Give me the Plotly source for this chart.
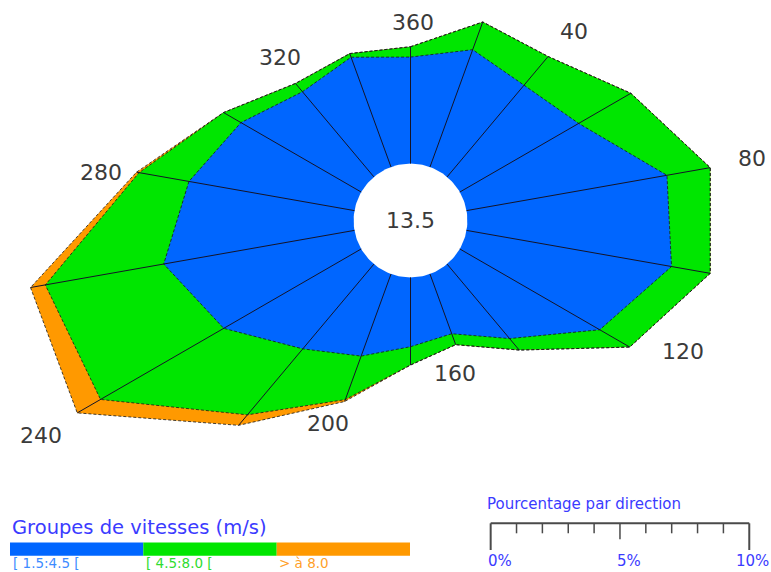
import numpy as np
import plotly.graph_objects as go

# ---------------------------------------------------------------- data
directions = [0, 20, 40, 60, 80, 100, 120, 140, 160, 180,
              200, 220, 240, 260, 280, 300, 320, 340]

# frequency (% per direction) for each speed group
pct_low = [4.12, 4.83, 4.63, 5.31, 7.87, 8.05, 6.25, 3.76, 2.46, 2.68,
           3.38, 4.28, 6.14, 7.49, 6.50, 5.37, 4.30, 4.52]      # [1.5:4.5[
pct_mid = [0.40, 1.14, 1.45, 2.33, 1.70, 1.52, 1.34, 0.58, 0.45, 0.71,
           1.79, 3.33, 5.50, 4.65, 1.96, 0.78, 0.42, 0.15]      # [4.5:8.0[
pct_high = [0.00, 0.00, 0.00, 0.00, 0.00, 0.00, 0.00, 0.00, 0.00, 0.00,
            0.08, 0.53, 1.04, 0.58, 0.10, 0.00, 0.00, 0.00]     # > 8.0

calm_pct = 13.5

group_labels = ["[ 1.5:4.5 [", "[ 4.5:8.0 [", "> à 8.0"]
group_colors = ["#0066ff", "#00e600", "#ff9900"]
group_text_colors = ["#3d8bff", "#2fdc2f", "#ff9f2a"]

tick_dirs = [0, 40, 80, 120, 160, 200, 240, 280, 320]
tick_labels = ["360", "40", "80", "120", "160", "200", "240", "280", "320"]

scale_values = list(range(0, 11))
scale_labels = {0: "0%", 5: "5%", 10: "10%"}

# ---------------------------------------------------------------- geometry
W, H = 771, 572
PX_PER_PCT = 25.86            # pixels for 1 % on the radial scale
CX, CY = 410.5, 220.5         # rose centre (pixels from top-left)
HOLE = 2.2                    # radius of the calm disc, in % units
SCALE_X0 = 3.10               # start of the percentage bar (x data units)

x_range = [-CX / PX_PER_PCT, (W - CX) / PX_PER_PCT]
y_range = [-(H - CY) / PX_PER_PCT, CY / PX_PER_PCT]

# pixel shift of each direction label from its outer vertex
LABEL_SHIFT = {0: (2, -24), 40: (26, -25), 80: (42, -9), 120: (53, 4),
               160: (-1, 29), 200: (-17, 22), 240: (-36, 23),
               280: (-35, 0), 320: (-15, -26)}

FONT = "DejaVu Sans"
LABEL_GREY = "#3a3a3a"
TITLE_BLUE = "#3b3bff"


def polar_xy(dirs, rho):
    th = np.radians(np.asarray(dirs, dtype=float))
    rho = np.asarray(rho, dtype=float)
    return rho * np.sin(th), rho * np.cos(th)


def closed(a):
    a = list(a)
    return a + a[:1]


def py2paper(py):
    return 1 - py / H


cum_low = HOLE + np.array(pct_low)
cum_mid = cum_low + np.array(pct_mid)
cum_high = cum_mid + np.array(pct_high)

fig = go.Figure()

# stacked filled polygons, outermost first
for cum, color in [(cum_high, group_colors[2]),
                   (cum_mid, group_colors[1]),
                   (cum_low, group_colors[0])]:
    x, y = polar_xy(directions, cum)
    fig.add_trace(go.Scatter(x=closed(x), y=closed(y), mode="lines",
                             fill="toself", fillcolor=color,
                             line=dict(width=0), hoverinfo="skip"))

# calm disc in the middle
disc_dirs = np.linspace(0, 360, 181)
dx, dy = polar_xy(disc_dirs, np.full(disc_dirs.shape, HOLE))
fig.add_trace(go.Scatter(x=dx, y=dy, mode="lines", fill="toself",
                         fillcolor="white", line=dict(width=0),
                         hoverinfo="skip"))

# outlines of each speed layer
for cum in [cum_low, cum_mid, cum_high]:
    x, y = polar_xy(directions, cum)
    fig.add_trace(go.Scatter(x=closed(x), y=closed(y), mode="lines",
                             line=dict(color="rgba(25,25,25,0.8)", width=1,
                                       dash="3px,2px"),
                             hoverinfo="skip"))

# radial spokes from the calm disc to the outer edge
sx, sy = [], []
ix, iy = polar_xy(directions, np.full(len(directions), HOLE))
ox, oy = polar_xy(directions, cum_high)
for a, b, c, d in zip(ix, iy, ox, oy):
    sx += [a, c, None]
    sy += [b, d, None]
fig.add_trace(go.Scatter(x=sx, y=sy, mode="lines",
                         line=dict(color="#141428", width=1),
                         hoverinfo="skip"))

annotations = []

# direction labels
for d, lab in zip(tick_dirs, tick_labels):
    i = directions.index(d)
    vx, vy = polar_xy([d], [cum_high[i]])
    sh = LABEL_SHIFT[d]
    annotations.append(dict(x=float(vx[0]), y=float(vy[0]), xref="x", yref="y",
                            text=lab, showarrow=False,
                            xshift=sh[0], yshift=-sh[1],
                            font=dict(family=FONT, size=22, color=LABEL_GREY)))

# calm percentage
annotations.append(dict(x=0, y=0, xref="x", yref="y", text=f"{calm_pct}",
                        showarrow=False,
                        font=dict(family=FONT, size=22, color=LABEL_GREY)))

shapes = []

# speed-group legend
annotations.append(dict(x=10 / W, y=py2paper(527), xref="paper", yref="paper",
                        xanchor="left", yanchor="middle",
                        text="Groupes de vitesses (m/s)", showarrow=False,
                        font=dict(family=FONT, size=19.5, color=TITLE_BLUE)))
bar_x = [10, 143.3, 276.7, 410]
for k in range(3):
    shapes.append(dict(type="rect", xref="paper", yref="paper",
                       x0=bar_x[k] / W, x1=bar_x[k + 1] / W,
                       y0=py2paper(555.7), y1=py2paper(542.5),
                       fillcolor=group_colors[k], line=dict(width=0)))
    annotations.append(dict(x=(bar_x[k] + 1.5) / W, y=0,
                            xref="paper", yref="paper",
                            xanchor="left", yanchor="bottom", borderpad=0,
                            text=group_labels[k], showarrow=False,
                            font=dict(family=FONT, size=13.5,
                                      color=group_text_colors[k])))

# percentage scale bar, drawn on the same radial scale as the rose
bar_y = py2paper(523.3)
shapes.append(dict(type="line", xref="x", yref="paper",
                   x0=SCALE_X0 + scale_values[0], x1=SCALE_X0 + scale_values[-1],
                   y0=bar_y, y1=bar_y, line=dict(color="#4a4a4a", width=2)))
for v in scale_values:
    if v in (0, 10):
        end = 550
    elif v == 5:
        end = 539.3
    else:
        end = 533.3
    shapes.append(dict(type="line", xref="x", yref="paper",
                       x0=SCALE_X0 + v, x1=SCALE_X0 + v,
                       y0=bar_y, y1=py2paper(end),
                       line=dict(color="#4a4a4a", width=2 if v in (0, 10) else 1.5)))
    if v in scale_labels:
        last = v == scale_values[-1]
        annotations.append(dict(x=1.0 if last else SCALE_X0 + v, y=0,
                                xref="paper" if last else "x", yref="paper",
                                xanchor="right" if last else "left",
                                yanchor="bottom",
                                xshift=0 if last else -5,
                                text=scale_labels[v], showarrow=False,
                                font=dict(family=FONT, size=15, color=TITLE_BLUE)))
annotations.append(dict(x=485 / W, y=py2paper(504), xref="paper", yref="paper",
                        xanchor="left", yanchor="middle",
                        text="Pourcentage par direction", showarrow=False,
                        font=dict(family=FONT, size=15, color=TITLE_BLUE)))

fig.update_layout(
    width=W, height=H,
    margin=dict(l=0, r=0, t=0, b=0),
    paper_bgcolor="white", plot_bgcolor="white",
    showlegend=False,
    xaxis=dict(range=x_range, visible=False, fixedrange=True),
    yaxis=dict(range=y_range, visible=False, fixedrange=True),
    shapes=shapes,
    annotations=annotations,
)

fig.write_html("out.html")
